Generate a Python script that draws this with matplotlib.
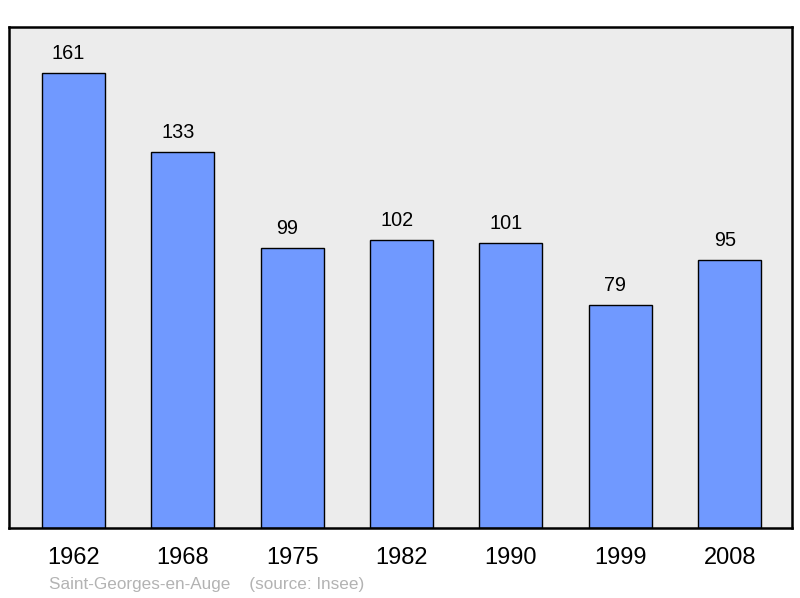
import matplotlib
matplotlib.use('Agg')
import matplotlib.pyplot as plt

years = ['1962', '1968', '1975', '1982', '1990', '1999', '2008']
population = [161, 133, 99, 102, 101, 79, 95]

plt.rcParams['font.family'] = ['Liberation Sans', 'DejaVu Sans']

fig = plt.figure(figsize=(8, 5.98), dpi=100)
ax = fig.add_axes([9 / 800, 70 / 598, 783 / 800, 501 / 598])
ax.set_facecolor('#ececec')

xs = list(range(len(years)))
bars = ax.bar(xs, population, width=0.576, color='#7099ff', edgecolor='black', linewidth=1.0, zorder=2)

# value labels above bars (slightly left of bar centre, as in the original)
for x, v in zip(xs, population):
    ax.annotate(str(v), (x, v), xytext=(-3.5, 14), textcoords='offset points',
                ha='center', va='center', fontsize=14.3, color='black')

ax.set_xlim(-0.59, 6.57)
ax.set_ylim(0, 177.3)
ax.set_xticks(xs)
ax.set_xticklabels(years, fontsize=17)
ax.tick_params(axis='x', length=0, pad=14)
ax.set_yticks([])
for s in ax.spines.values():
    s.set_linewidth(1.8)

fig.text(49 / 800, 1 - 584 / 598, 'Saint-Georges-en-Auge    (source: Insee)',
         fontsize=12.3, color='#b3b3b3', va='center', ha='left')

fig.savefig('out.png', dpi=100)
